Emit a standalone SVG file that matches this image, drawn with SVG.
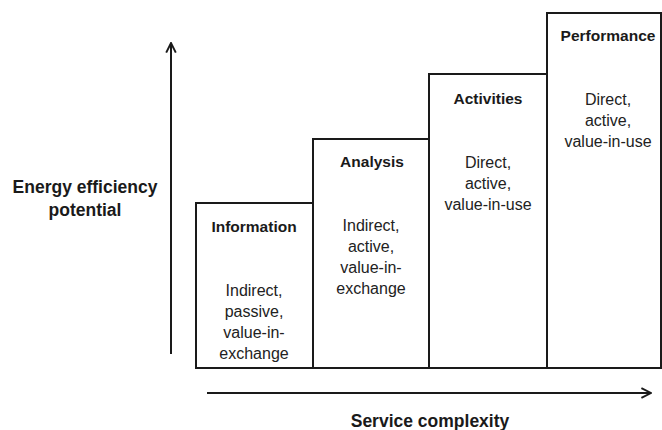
<svg xmlns="http://www.w3.org/2000/svg" width="662" height="430" viewBox="0 0 662 430">
<style>
.box{fill:#fff;stroke:#1a1a1a;stroke-width:2}
.ax{stroke:#1a1a1a;stroke-width:2;fill:none}
.t{font-family:"Liberation Sans",Arial,sans-serif;font-weight:bold;font-size:15.5px;fill:#1a1a1a;text-anchor:middle}
.b{font-family:"Liberation Sans",Arial,sans-serif;font-size:16px;fill:#222;text-anchor:middle}
.l{font-family:"Liberation Sans",Arial,sans-serif;font-weight:bold;font-size:17.5px;fill:#1a1a1a;text-anchor:middle}
</style>
<defs>
<marker id="arr" viewBox="0 0 10 10" refX="9" refY="5" markerWidth="6" markerHeight="6" orient="auto" markerUnits="strokeWidth">
<path d="M1,1 L9,5 L1,9" fill="none" stroke="#1a1a1a" stroke-width="1.6"/>
</marker>
</defs>
<g id="connectors">
<line class="ax" x1="171" y1="354" x2="171" y2="43" marker-end="url(#arr)"/>
<line class="ax" x1="207" y1="393" x2="651" y2="393" marker-end="url(#arr)"/>
</g>
<g id="information">
<rect class="box" x="196" y="203" width="117" height="165"/>
<text class="t" x="254" y="232">Information</text>
<text class="b" x="254" y="296">Indirect,</text>
<text class="b" x="254" y="317">passive,</text>
<text class="b" x="254" y="338">value-in-</text>
<text class="b" x="254" y="359">exchange</text>
</g>
<g id="analysis">
<rect class="box" x="313" y="139" width="116" height="229"/>
<text class="t" x="372" y="167">Analysis</text>
<text class="b" x="371" y="231">Indirect,</text>
<text class="b" x="371" y="252">active,</text>
<text class="b" x="371" y="273">value-in-</text>
<text class="b" x="371" y="294">exchange</text>
</g>
<g id="activities">
<rect class="box" x="429" y="74" width="118" height="294"/>
<text class="t" x="488" y="104">Activities</text>
<text class="b" x="488" y="168">Direct,</text>
<text class="b" x="488" y="189">active,</text>
<text class="b" x="488" y="210">value-in-use</text>
</g>
<g id="performance">
<rect class="box" x="547" y="13" width="114" height="355"/>
<text class="t" x="608" y="41">Performance</text>
<text class="b" x="608" y="105">Direct,</text>
<text class="b" x="608" y="126">active,</text>
<text class="b" x="608" y="147">value-in-use</text>
</g>
<g id="labels">
<text class="l" x="85" y="193">Energy efficiency</text>
<text class="l" x="85" y="216">potential</text>
<text class="l" x="430" y="427">Service complexity</text>
</g>
</svg>
